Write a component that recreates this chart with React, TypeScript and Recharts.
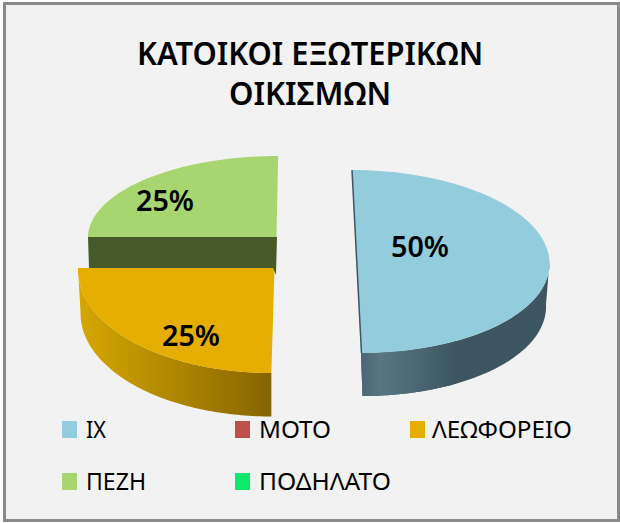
import React from "react";
import { PieChart, Pie, Cell, Legend } from "recharts";

const categories = ["ΙΧ", "ΜΟΤΟ", "ΛΕΩΦΟΡΕΙΟ", "ΠΕΖΗ", "ΠΟΔΗΛΑΤΟ"];
const shares = [50, 0, 25, 25, 0];
const colors = ["#93cddd", "#c0504d", "#e6ae00", "#a7d670", "#0ee86c"];
const titleLines = ["ΚΑΤΟΙΚΟΙ ΕΞΩΤΕΡΙΚΩΝ", "ΟΙΚΙΣΜΩΝ"];

const data = categories.map((name, i) => ({ name, value: shares[i] }));

const FONT = "'Noto Sans', 'Open Sans', sans-serif";

type Geo = {
  cx: number; cy: number; rx: number; ry: number; shear: number;
  depth: number; bottomRx: number; bottomDx: number;
  wallFrom?: string; wallTo?: string; label: [number, number]; labelW: number;
};

const geometry: Record<string, Geo> = {
  "ΙΧ": { cx: 356.5, cy: 261.5, rx: 193, ry: 91.5, shear: 0.049, depth: 43, bottomRx: 188, bottomDx: 1.5, wallFrom: "#55737f", wallTo: "#3a525c", label: [420, 245], labelW: 58 },
  "ΛΕΩΦΟΡΕΙΟ": { cx: 274.5, cy: 268, rx: 196.5, ry: 105, shear: -0.03, depth: 43.5, bottomRx: 194, bottomDx: 0, wallFrom: "#d6a800", wallTo: "#866500", label: [191, 334], labelW: 58 },
  "ΠΕΖΗ": { cx: 276.5, cy: 237, rx: 188.5, ry: 81, shear: -0.02, depth: 0, bottomRx: 0, bottomDx: 0, label: [165, 199], labelW: 58 },
};

function arc(cx: number, cy: number, rx: number, ry: number, shear: number, from: number, to: number) {
  const pts: string[] = [];
  const steps = 80;
  for (let i = 0; i <= steps; i++) {
    const a = ((from + ((to - from) * i) / steps) * Math.PI) / 180;
    const dy = -ry * Math.sin(a);
    pts.push(`${(cx + rx * Math.cos(a) + shear * dy).toFixed(2)},${(cy + dy).toFixed(2)}`);
  }
  return pts;
}

function Slice3D(props: any) {
  const name = props.name ?? props.payload?.name;
  const g = geometry[name];
  if (!g || props.startAngle === props.endAngle) return null;
  const { startAngle: s, endAngle: e, fill } = props;
  const top = [`${g.cx},${g.cy}`, ...arc(g.cx, g.cy, g.rx, g.ry, g.shear, s, e)];
  const gradId = `wall-${categories.indexOf(name)}`;
  const wallS = Math.min(s, 0);
  const wallE = Math.max(e, -180);
  return (
    <g>
      {name === "ΠΕΖΗ" && (
        <polygon points="88,237 277,237 276,275 273,268 89,268" fill="#475a2a" />
      )}
      {g.depth > 0 && (
        <>
          <defs>
            <linearGradient id={gradId} x1="0" x2="1" y1="0" y2="0">
              <stop offset="0" stopColor={g.wallFrom} />
              <stop offset="1" stopColor={g.wallTo} />
            </linearGradient>
          </defs>
          <polygon
            fill={name === "ΙΧ" ? "#3d5661" : `url(#${gradId})`}
            points={[
              ...arc(g.cx, g.cy, g.rx, g.ry, g.shear, wallS, wallE),
              ...arc(g.cx + g.bottomDx, g.cy + g.depth, g.bottomRx, g.ry, g.shear, wallE, wallS),
            ].join(" ")}
          />
          {name === "ΙΧ" && (
            <polygon
              fill={`url(#${gradId}-l)`}
              points={[
                ...arc(g.cx, g.cy, g.rx, g.ry, g.shear, -60, -90),
                ...arc(g.cx + g.bottomDx, g.cy + g.depth, g.bottomRx, g.ry, g.shear, -90, -60),
              ].join(" ")}
            />
          )}
          {name === "ΙΧ" && (
            <defs>
              <linearGradient id={`${gradId}-l`} x1="1" x2="0" y1="0" y2="0">
                <stop offset="0" stopColor="#3d5661" />
                <stop offset="0.8" stopColor="#587682" />
                <stop offset="1" stopColor="#4a6672" />
              </linearGradient>
            </defs>
          )}
        </>
      )}
      <polygon points={top.join(" ")} fill={fill} />
      {name === "ΙΧ" && (
        <line x1={352} y1={170} x2={361.5} y2={353} stroke="#3d5661" strokeWidth={1.5} />
      )}
    </g>
  );
}

function PercentLabel(props: any) {
  const g = geometry[props.name ?? props.payload?.name];
  if (!g || !props.value) return null;
  return (
    <text
      x={g.label[0]}
      y={g.label[1]}
      textAnchor="middle"
      dominantBaseline="central"
      fontFamily={FONT}
      fontWeight={600}
      fontSize={29}
      textLength={g.labelW}
      lengthAdjust="spacingAndGlyphs"
      fill="#000"
    >
      {`${Math.round(props.percent * 100)}%`}
    </text>
  );
}

const legendSlots: Record<string, { sx: number; tx: number; y: number; w: number }> = {
  "ΙΧ": { sx: 62, tx: 86, y: 429, w: 20 },
  "ΜΟΤΟ": { sx: 235, tx: 259, y: 429, w: 72 },
  "ΛΕΩΦΟΡΕΙΟ": { sx: 410, tx: 432, y: 429, w: 140 },
  "ΠΕΖΗ": { sx: 62, tx: 86, y: 481, w: 60 },
  "ΠΟΔΗΛΑΤΟ": { sx: 235, tx: 259, y: 481, w: 132 },
};

function LegendContent({ payload }: any) {
  return (
    <svg width={620} height={523} style={{ position: "absolute", left: 0, top: 0, pointerEvents: "none" }}>
      {(payload ?? []).map((p: any) => {
        const s = legendSlots[p.value];
        return (
          <g key={p.value}>
            <rect x={s.sx} y={s.y - 8} width={15} height={17} fill={p.color} />
            <text
              x={s.tx}
              y={s.y + 8.5}
              fontFamily={FONT}
              fontSize={24}
              textLength={s.w}
              lengthAdjust="spacingAndGlyphs"
              fill="#000"
            >
              {p.value}
            </text>
          </g>
        );
      })}
    </svg>
  );
}

export default function App() {
  return (
    <div
      style={{
        position: "absolute",
        left: 0,
        top: 0,
        width: 620,
        height: 523,
        background: "#fff",
        overflow: "hidden",
      }}
    >
      <div
        style={{
          position: "absolute",
          left: 3,
          top: 2,
          width: 611,
          height: 514,
          background: "#f2f2f2",
          border: "3px solid #8a8a8a",
        }}
      />
      <svg width={620} height={523} style={{ position: "absolute", left: 0, top: 0 }}>
        {titleLines.map((t, i) => (
          <text
            key={t}
            x={310}
            y={i === 0 ? 65 : 105}
            textAnchor="middle"
            fontFamily={FONT}
            fontWeight={600}
            fontSize={33}
            textLength={i === 0 ? 346 : 162}
            lengthAdjust="spacingAndGlyphs"
            fill="#000"
          >
            {t}
          </text>
        ))}
      </svg>
      <div style={{ position: "absolute", left: 0, top: 0 }}>
        <PieChart width={620} height={523} style={{ background: "transparent" }}>
          <Pie
            data={data}
            dataKey="value"
            nameKey="name"
            cx={310}
            cy={262}
            outerRadius={180}
            startAngle={90}
            endAngle={-270}
            stroke="none"
            isAnimationActive={false}
            labelLine={false}
            label={PercentLabel}
            shape={Slice3D}
            inactiveShape={Slice3D}
            activeShape={Slice3D}
          >
            {categories.map((c, i) => (
              <Cell key={c} fill={colors[i]} />
            ))}
          </Pie>
          <Legend
            content={LegendContent}
            wrapperStyle={{ position: "absolute", left: 0, top: 0, bottom: "auto", width: 620, height: 523, pointerEvents: "none" }}
          />
        </PieChart>
      </div>
    </div>
  );
}
